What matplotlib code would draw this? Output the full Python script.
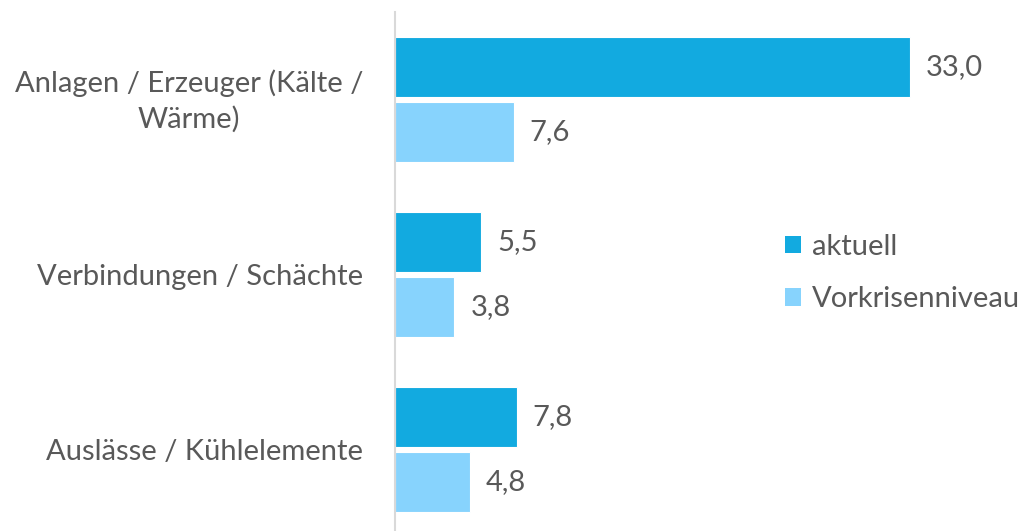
import matplotlib
matplotlib.use("Agg")
import matplotlib.pyplot as plt
from matplotlib.patches import Patch
from matplotlib.transforms import ScaledTranslation

categories = ["Anlagen / Erzeuger (Kälte /\nWärme)", "Verbindungen / Schächte", "Auslässe / Kühlelemente"]
aktuell = [33.0, 5.5, 7.8]
vorkrise = [7.6, 3.8, 4.8]
series_names = ["aktuell", "Vorkrisenniveau"]
colors = ["#12AAE0", "#87D3FD"]
txt = "#595959"

plt.rcParams['font.family'] = ['Lato', 'DejaVu Sans']
FS = 21

W, H = 1024, 531
fig = plt.figure(figsize=(W/100, H/100), dpi=100)
ax = fig.add_axes([395/W, 0, (W-395)/W, (531-12)/H])

bh = 60/175
off = 32.5/175
ys = list(range(len(categories)))
ax.barh([y - off for y in ys], aktuell, height=bh, color=colors[0], edgecolor="white", linewidth=0.8)
ax.barh([y + off for y in ys], vorkrise, height=bh, color=colors[1], edgecolor="white", linewidth=0.8)

scale = 515/33.0
ax.set_xlim(0, (W-395)/scale)
ax.set_ylim(2.5 - 5.5/175, -0.5)

for y, a, v in zip(ys, aktuell, vorkrise):
    ax.text(a + 16/scale, y - off, f"{a:.1f}".replace(".", ","), va="center", ha="left", fontsize=FS, color=txt)
    ax.text(v + 16/scale, y + off, f"{v:.1f}".replace(".", ","), va="center", ha="left", fontsize=FS, color=txt)

ax.set_yticks(ys)
ax.set_yticklabels(categories, fontsize=FS, color=txt, multialignment="center", linespacing=1.4)
ax.tick_params(axis="y", length=0, pad=23)
ax.set_xticks([])
for s in ["top", "right", "bottom"]:
    ax.spines[s].set_visible(False)
ax.spines["left"].set_color("#D9D9D9")
ax.spines["left"].set_linewidth(1.5)

# nudge the two-line label slightly up to match the reference
lbl = ax.get_yticklabels()[0]
lbl.set_transform(lbl.get_transform() + ScaledTranslation(0, 5/100, fig.dpi_scale_trans))

handles = [Patch(facecolor=c, edgecolor="none") for c in colors]
leg = fig.legend(handles, series_names, loc="center left", bbox_to_anchor=(785/W, 1 - 273/H),
                 frameon=False, fontsize=FS, handlelength=0.55, handleheight=0.55,
                 handletextpad=0.38, labelspacing=0.9, labelcolor=txt,
                 borderpad=0, borderaxespad=0)

fig.savefig("out.png", dpi=100)
